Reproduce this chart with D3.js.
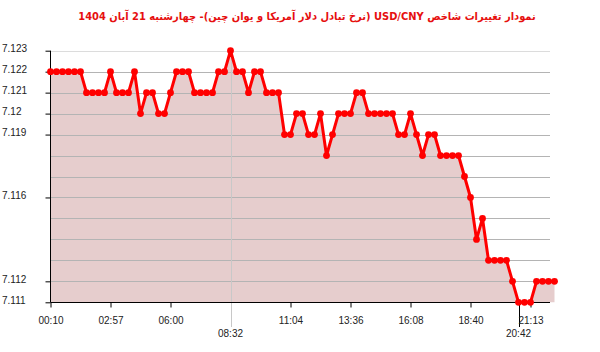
<!DOCTYPE html>
<html>
<head>
<meta charset="utf-8">
<script src="https://cdn.jsdelivr.net/npm/d3@7"></script>
<style>
  body { margin: 0; background: #fff; }
  svg { display: block; }
</style>
</head>
<body>
<svg id="canvas"></svg>
<script>
const titleText = 'نمودار تغییرات شاخص USD/CNY (نرخ تبادل دلار آمریکا و یوان چین)- چهارشنبه  21 آبان 1404';

// one value every ~15 minutes, 00:10 -> 22:00
const values = [
  7.122, 7.122, 7.122, 7.122, 7.122, 7.122, 7.121, 7.121, 7.121, 7.121,
  7.122, 7.121, 7.121, 7.121, 7.122, 7.120, 7.121, 7.121, 7.120, 7.120,
  7.121, 7.122, 7.122, 7.122, 7.121, 7.121, 7.121, 7.121, 7.122, 7.122,
  7.123, 7.122, 7.122, 7.121, 7.122, 7.122, 7.121, 7.121, 7.121, 7.119,
  7.119, 7.120, 7.120, 7.119, 7.119, 7.120, 7.118, 7.119, 7.120, 7.120,
  7.120, 7.121, 7.121, 7.120, 7.120, 7.120, 7.120, 7.120, 7.119, 7.119,
  7.120, 7.119, 7.118, 7.119, 7.119, 7.118, 7.118, 7.118, 7.118, 7.117,
  7.116, 7.114, 7.115, 7.113, 7.113, 7.113, 7.113, 7.112, 7.111, 7.111,
  7.111, 7.112, 7.112, 7.112, 7.112
];

const xTickIdx = [0, 10, 20, 40, 50, 60, 70, 80];
const xTickLabels = ['00:10', '02:57', '06:00', '11:04', '13:36', '16:08', '18:40', '21:13'];
const markIdx = [30, 78];
const markLabels = ['08:32', '20:42'];

const yGrid = [7.111, 7.112, 7.113, 7.114, 7.115, 7.116, 7.117, 7.118, 7.119, 7.12, 7.121, 7.122, 7.123];
const yTickLabels = [7.111, 7.112, 7.116, 7.119, 7.12, 7.121, 7.122, 7.123];

const width = 600;
const height = 352;
const plotLeft = 50.5;
const plotRight = 550;
const plotTop = 50.7;
const plotBottom = 302.3;
const step = 6;

const svg = d3.select('#canvas')
  .attr('width', width)
  .attr('height', height)
  .style('font-family', '"Liberation Sans", Arial, sans-serif');

const x = d3.scaleLinear()
  .domain([0, values.length - 1])
  .range([plotLeft, plotLeft + (values.length - 1) * step]);

const y = d3.scaleLinear()
  .domain([7.111, 7.123])
  .range([plotBottom, plotTop]);

// title
svg.append('text')
  .attr('x', 307)
  .attr('y', 20)
  .attr('text-anchor', 'middle')
  .attr('direction', 'rtl')
  .style('unicode-bidi', 'embed')
  .style('font-family', '"DejaVu Sans Condensed", "DejaVu Sans", sans-serif')
  .style('font-weight', 'bold')
  .style('font-size', '11px')
  .attr('fill', '#e60f0f')
  .text(titleText);

// area
const area = d3.area()
  .x((d, i) => x(i))
  .y0(y(7.111))
  .y1(d => y(d));

svg.append('path')
  .datum(values)
  .attr('d', area)
  .attr('fill', '#e6cdcd');

// horizontal grid
svg.append('g')
  .selectAll('line')
  .data(yGrid)
  .enter()
  .append('line')
  .attr('x1', plotLeft)
  .attr('x2', plotRight)
  .attr('y1', d => Math.round(y(d)) + 0.5)
  .attr('y2', d => Math.round(y(d)) + 0.5)
  .attr('stroke', d => d === 7.123 ? '#dcdcdc' : '#b4b4b4')
  .attr('stroke-width', 1);

// special time marks
svg.append('line')
  .attr('x1', Math.round(x(markIdx[0])) + 0.5)
  .attr('x2', Math.round(x(markIdx[0])) + 0.5)
  .attr('y1', plotTop)
  .attr('y2', 327)
  .attr('stroke', '#c8c8c8');

svg.append('line')
  .attr('x1', Math.round(x(markIdx[1])) + 0.5)
  .attr('x2', Math.round(x(markIdx[1])) + 0.5)
  .attr('y1', plotBottom)
  .attr('y2', 327)
  .attr('stroke', '#000');

svg.append('g')
  .selectAll('text')
  .data(markIdx)
  .enter()
  .append('text')
  .attr('x', d => x(d))
  .attr('y', 337)
  .attr('text-anchor', 'middle')
  .style('font-size', '10px')
  .attr('fill', '#222')
  .text((d, i) => markLabels[i]);

// axes
const yAxis = d3.axisLeft(y)
  .tickValues(yTickLabels)
  .tickSize(5)
  .tickFormat(d => d3.format('')(+d.toFixed(3)));

const yG = svg.append('g')
  .attr('transform', 'translate(' + plotLeft + ',0)')
  .call(yAxis);
yG.attr('font-family', null).attr('font-size', null);
yG.select('.domain').attr('d', 'M0,' + plotTop + 'V' + plotBottom).attr('stroke', '#000');
yG.selectAll('.tick line').attr('stroke', '#000');
yG.selectAll('.tick text')
  .attr('x', -48.5)
  .attr('y', -2)
  .attr('text-anchor', 'start')
  .style('font-size', '10px')
  .attr('fill', '#222');

const xAxis = d3.axisBottom(x)
  .tickValues(xTickIdx)
  .tickSize(5)
  .tickFormat((d, i) => xTickLabels[i]);

const xG = svg.append('g')
  .attr('transform', 'translate(0,' + (Math.round(plotBottom) + 0.5) + ')')
  .call(xAxis);
xG.attr('font-family', null).attr('font-size', null);
xG.select('.domain').attr('d', 'M' + plotLeft + ',0H' + plotRight).attr('stroke', '#000');
xG.selectAll('.tick line').attr('stroke', '#000');
xG.selectAll('.tick text')
  .attr('y', 14)
  .style('font-size', '10px')
  .attr('fill', '#222');

// line and dots
const line = d3.line()
  .x((d, i) => x(i))
  .y(d => y(d));

svg.append('path')
  .datum(values)
  .attr('d', line)
  .attr('fill', 'none')
  .attr('stroke', '#ff0000')
  .attr('stroke-width', 3)
  .attr('stroke-linejoin', 'round');

svg.append('g')
  .selectAll('circle')
  .data(values)
  .enter()
  .append('circle')
  .attr('cx', (d, i) => x(i))
  .attr('cy', d => y(d))
  .attr('r', 3.4)
  .attr('fill', '#ff0000');
</script>
</body>
</html>
